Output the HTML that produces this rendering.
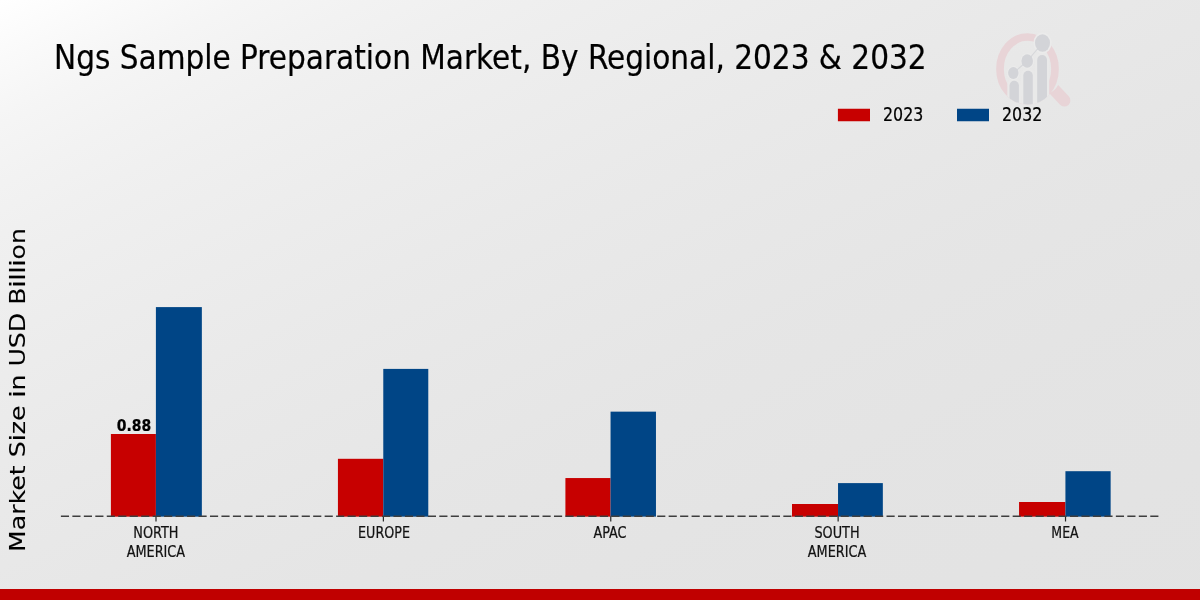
<!DOCTYPE html>
<html lang="en">
<head>
<meta charset="utf-8">
<title>Ngs Sample Preparation Market, By Regional, 2023 &amp; 2032</title>
<style>
html,body{margin:0;padding:0;}
body{width:1200px;height:600px;overflow:hidden;background:#e7e7e7;}
#chart{position:relative;width:1200px;height:600px;overflow:hidden;
  background:linear-gradient(to bottom right,rgb(255.0,255.0,255.0) 0.00%,rgb(250.0,250.0,250.0) 5.00%,rgb(245.3,245.3,245.3) 10.00%,rgb(242.2,242.2,242.2) 15.00%,rgb(239.8,239.8,239.8) 20.00%,rgb(238.0,238.0,238.0) 25.00%,rgb(236.4,236.4,236.4) 30.00%,rgb(233.6,233.6,233.6) 40.00%,rgb(231.4,231.4,231.4) 50.00%,rgb(229.4,229.4,229.4) 60.00%,rgb(227.7,227.7,227.7) 75.00%,rgb(226.4,226.4,226.4) 100.00%);
  font-family:"DejaVu Sans Condensed","DejaVu Sans","Liberation Sans",sans-serif;color:#000;}
.t{position:absolute;white-space:nowrap;line-height:1;margin:0;padding:0;}
#title{left:54.2px;top:40.7px;-webkit-text-stroke:0.2px #000;font-size:33.3px;font-weight:normal;transform:scale(0.9878,1.03);transform-origin:0 80%;}
#ylabel{font-family:"DejaVu Sans","Liberation Sans",sans-serif;font-size:25.2px;left:17.85px;top:389.9px;-webkit-text-stroke:0.1px #000;
  transform:translate(-50%,-50%) rotate(-90deg) scale(1,0.85);transform-origin:50% 50%;}
.xl{position:absolute;font-size:14.3px;line-height:16.8px;text-align:center;width:160px;top:522.9px;color:#111;-webkit-text-stroke:0.2px #111;transform:scale(var(--sx,1),1.12);transform-origin:50% 0;}
#val{font-family:"DejaVu Sans","Liberation Sans",sans-serif;font-weight:bold;font-size:14px;left:116.8px;top:418.9px;-webkit-text-stroke:0.2px #000;transform:scale(1,1.16);transform-origin:0 80%;}
.leg{position:absolute;font-size:17.8px;line-height:1;white-space:nowrap;-webkit-text-stroke:0.2px #000;transform:scale(0.99,1.10);transform-origin:0 80%;}
#band{position:absolute;left:0;top:589px;width:1200px;height:11px;background:#c00000;}
svg{position:absolute;left:0;top:0;}
</style>
</head>
<body>
<div id="chart">

  <svg id="logo" width="100" height="100" viewBox="985 20 100 100" style="left:985px;top:20px" aria-hidden="true">
    <defs><clipPath id="lc"><ellipse cx="1027.5" cy="68.9" rx="31.4" ry="35.7"/></clipPath></defs>
    <ellipse cx="1027.5" cy="68.9" rx="27.5" ry="31.9" fill="none" stroke="#e8d4d7" stroke-width="7.7"/>
    <path d="M-10.5,-6.1 H5 A6.1,6.1 0 0 1 5,6.1 H-10.5 Q-8.6,0 -10.5,-6.1 Z" fill="#e8d4d7" transform="translate(1060.9,96.8) rotate(47)"/>
    <g clip-path="url(#lc)">
      <g fill="#e9e9e9" stroke="#e9e9e9" stroke-width="4.4">
        <rect x="1009.5" y="80.8" width="9.4" height="32" rx="4.7"/>
        <rect x="1023.3" y="70.8" width="9.5" height="42" rx="4.7"/>
        <rect x="1037.2" y="55" width="9.8" height="57" rx="4.9"/>
      </g>
      <g fill="#d3d4d8">
        <rect x="1009.5" y="80.8" width="9.4" height="32" rx="4.7"/>
        <rect x="1023.3" y="70.8" width="9.5" height="42" rx="4.7"/>
        <rect x="1037.2" y="55" width="9.8" height="57" rx="4.9"/>
      </g>
    </g>
    <g fill="#ebebeb">
      <ellipse cx="1042.5" cy="43" rx="9.1" ry="10.5"/>
      <ellipse cx="1027.2" cy="61" rx="6.8" ry="7.8"/>
      <ellipse cx="1013.3" cy="73" rx="6.2" ry="7"/>
    </g>
    <polyline points="1013.3,73 1027.2,61 1042.5,43" fill="none" stroke="#d6d7da" stroke-width="1.1"/>
    <g fill="#d3d4d8">
      <ellipse cx="1013.3" cy="73" rx="5.2" ry="6"/>
      <ellipse cx="1027.2" cy="61" rx="5.8" ry="6.7"/>
      <ellipse cx="1042.5" cy="43" rx="7.5" ry="8.8"/>
    </g>
  </svg>
  <h1 class="t" id="title">Ngs Sample Preparation Market, By Regional, 2023 &amp; 2032</h1>
  <div class="t" id="ylabel">Market Size in USD Billion</div>

  <div class="leg" style="left:883.3px;top:106.1px">2023</div>
  <div class="leg" style="left:1002.3px;top:106.1px">2032</div>

  <svg width="1200" height="600" viewBox="0 0 1200 600">
    <rect x="837.9" y="108.75" width="32.1" height="12.5" fill="#c70000"/>
    <rect x="957" y="108.75" width="32" height="12.5" fill="#004586"/>
    <rect x="110.90" y="434.00" width="45.00" height="82.65" fill="#c70000"/>
    <rect x="155.90" y="307.10" width="45.95" height="209.55" fill="#004586"/>
    <rect x="337.93" y="458.80" width="45.35" height="57.85" fill="#c70000"/>
    <rect x="383.28" y="368.90" width="45.00" height="147.75" fill="#004586"/>
    <rect x="565.41" y="478.05" width="45.15" height="38.60" fill="#c70000"/>
    <rect x="610.56" y="411.65" width="45.40" height="105.00" fill="#004586"/>
    <rect x="792.00" y="504.00" width="46.04" height="12.65" fill="#c70000"/>
    <rect x="838.04" y="483.10" width="44.80" height="33.55" fill="#004586"/>
    <rect x="1019.05" y="502.00" width="46.37" height="14.65" fill="#c70000"/>
    <rect x="1065.42" y="471.20" width="45.22" height="45.45" fill="#004586"/>
    <line x1="156.00" y1="516.3" x2="156.00" y2="521.5" stroke="#262626" stroke-width="1.2"/>
    <line x1="383.38" y1="516.3" x2="383.38" y2="521.5" stroke="#262626" stroke-width="1.2"/>
    <line x1="610.76" y1="516.3" x2="610.76" y2="521.5" stroke="#262626" stroke-width="1.2"/>
    <line x1="838.14" y1="516.3" x2="838.14" y2="521.5" stroke="#262626" stroke-width="1.2"/>
    <line x1="1065.52" y1="516.3" x2="1065.52" y2="521.5" stroke="#262626" stroke-width="1.2"/>
    <line x1="60.9" y1="516.3" x2="1160" y2="516.3" stroke="#3e3e3e" stroke-width="1.6" stroke-dasharray="8.15 3.317"/>
  </svg>
  <div class="t" id="val">0.88</div>

  <div class="xl" style="left:75.90px;--sx:1.0">NORTH<br>AMERICA</div>
  <div class="xl" style="left:303.55px;--sx:0.988">EUROPE</div>
  <div class="xl" style="left:529.70px;--sx:0.992">APAC</div>
  <div class="xl" style="left:757.30px;--sx:0.998">SOUTH<br>AMERICA</div>
  <div class="xl" style="left:985.10px;--sx:0.975">MEA</div>

  <div id="band"></div>
</div>
</body>
</html>
